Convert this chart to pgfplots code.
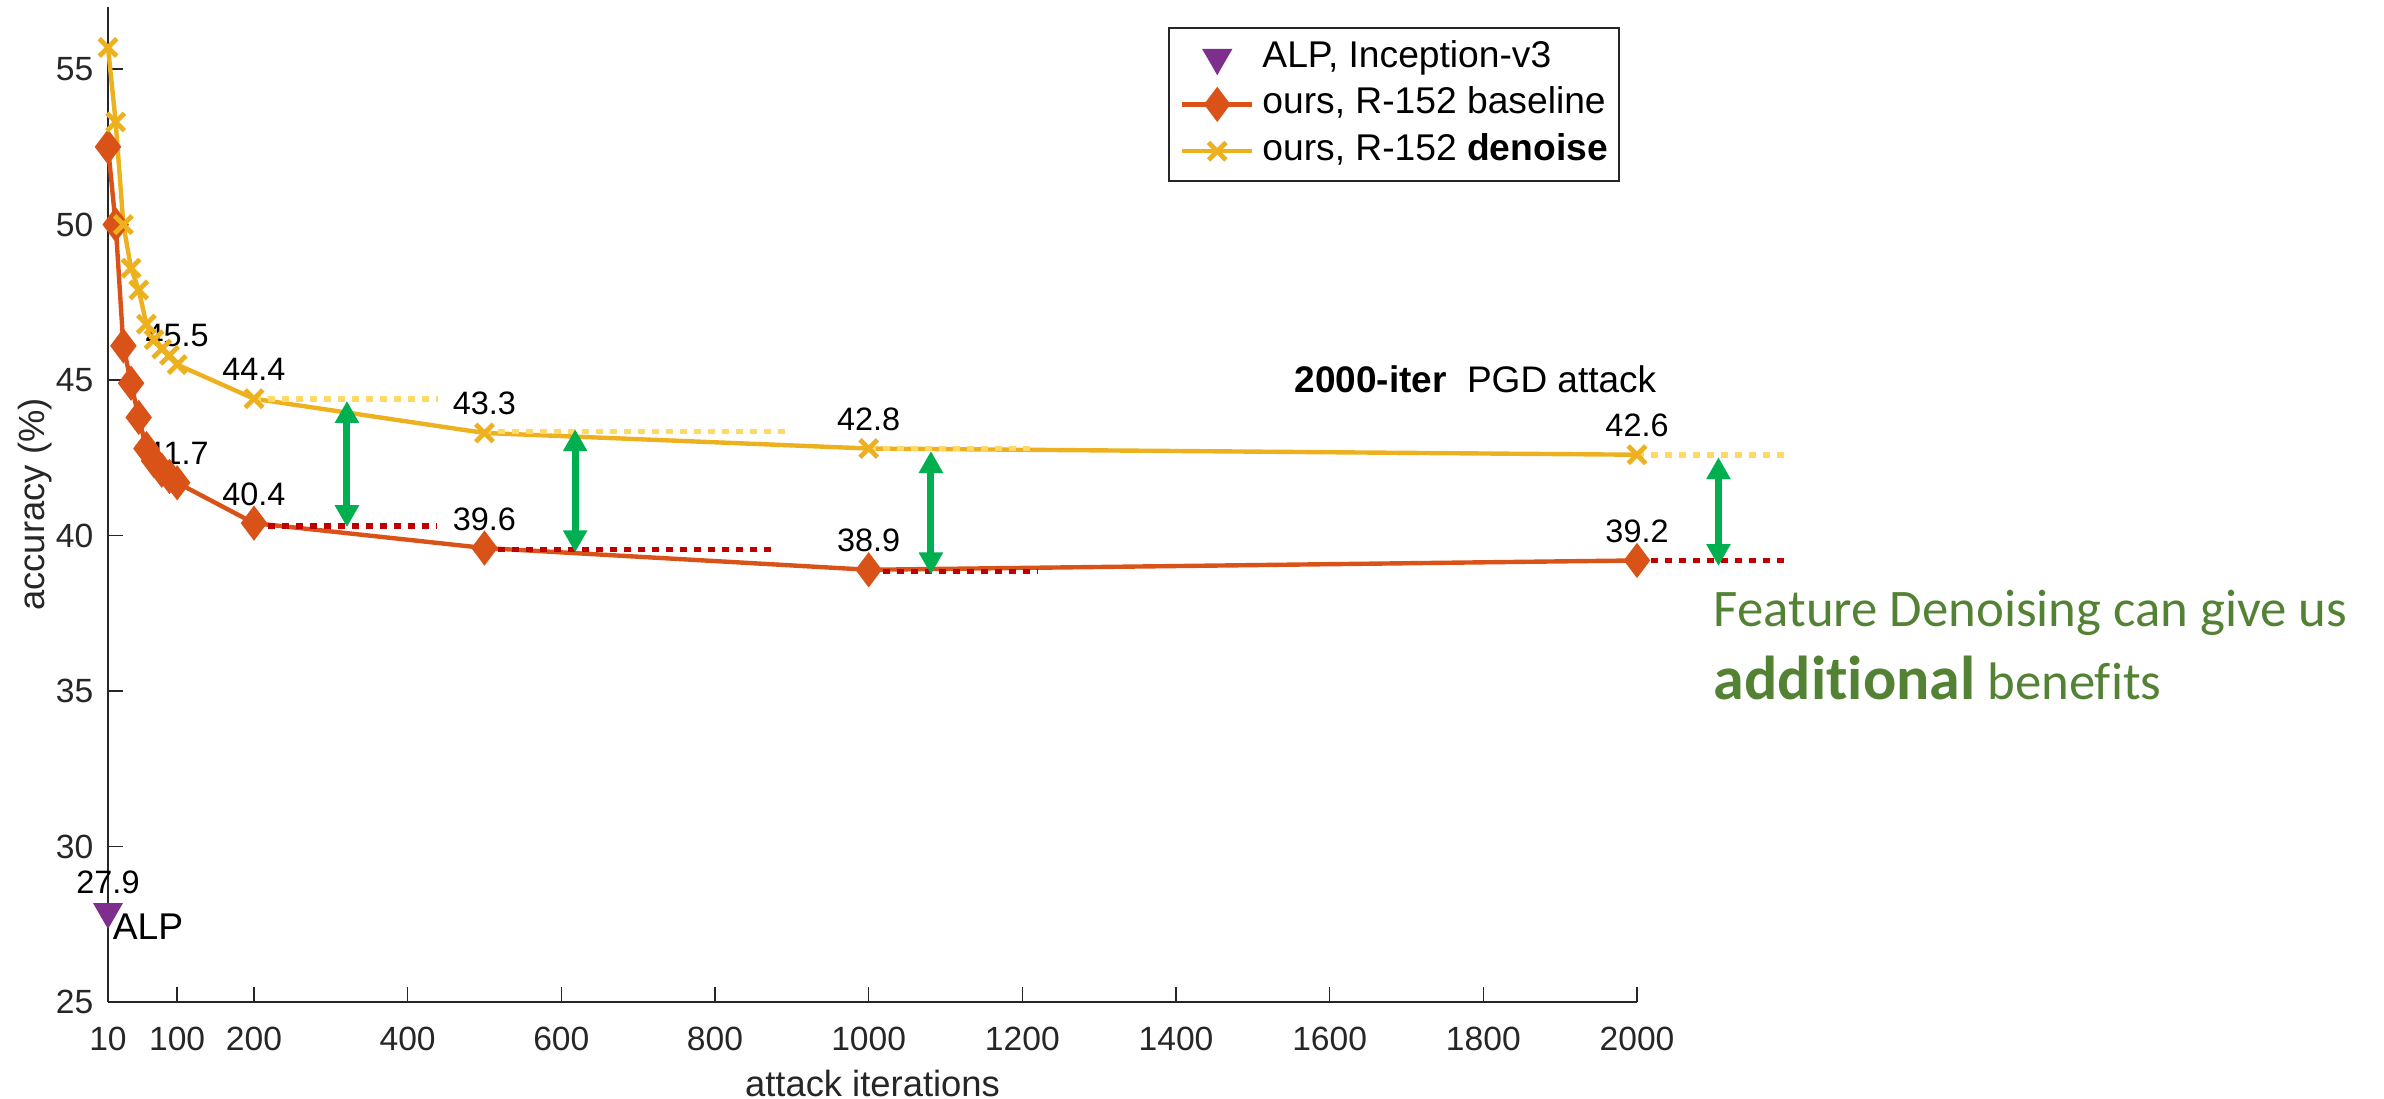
\documentclass[border=0pt]{standalone}
\usepackage{pgfplots}
\pgfplotsset{compat=1.18}
\usepackage{pgfplotstable}
\usepackage{fontspec}
\setmainfont{Liberation Sans}
\newfontfamily\carlito[Ligatures=NoCommon]{Carlito}
\usetikzlibrary{arrows.meta}
\definecolor{cbase}{RGB}{217,83,25}
\definecolor{cden}{RGB}{237,177,32}
\definecolor{calp}{RGB}{126,47,142}
\definecolor{axgray}{RGB}{38,38,38}
\definecolor{dotyel}{RGB}{255,217,102}
\definecolor{dotred}{RGB}{192,0,0}
\definecolor{arrgreen}{RGB}{0,176,80}
\definecolor{txtgreen}{RGB}{84,130,53}

\pgfplotstableread{
x y
10 52.5
20 50.0
30 46.1
40 44.9
50 43.8
60 42.8
70 42.4
80 42.1
90 41.9
100 41.7
200 40.4
500 39.6
1000 38.9
2000 39.2
}\basetable

\pgfplotstableread{
x y
10 55.7
20 53.3
30 50.0
40 48.6
50 47.9
60 46.8
70 46.3
80 46.0
90 45.8
100 45.5
200 44.4
500 43.3
1000 42.8
2000 42.6
}\dentable

\begin{document}
\begin{tikzpicture}
\useasboundingbox (-27pt,-24.25pt) rectangle (569pt,250.5pt);
\begin{axis}[
  scale only axis, width=382.25pt, height=248.75pt,
  xmin=10, xmax=2000, ymin=25, ymax=57,
  clip=false,
  axis x line*=bottom, axis y line*=left,
  axis line style={-, draw=axgray, line width=0.5pt},
  tick align=inside, major tick length=3.75pt,
  tick style={draw=axgray, line width=0.4pt},
  xtick={10,100,200,400,600,800,1000,1200,1400,1600,1800,2000},
  ytick={25,30,35,40,45,50,55},
  /pgf/number format/assume math mode=true,
  /pgf/number format/1000 sep={},
  xticklabel style={font=\fontsize{8.4}{10}\selectfont, text=axgray, inner sep=0pt, yshift=-6pt},
  yticklabel style={font=\fontsize{8.4}{10}\selectfont, text=axgray, inner sep=0pt, xshift=-3.5pt},
  xlabel={attack iterations}, ylabel={accuracy (\%)},
  xlabel style={at={(axis description cs:0.5,-0.0814)}, anchor=center, font=\fontsize{9.1}{11}\selectfont, text=axgray},
  ylabel style={at={(axis description cs:-0.0477,0.5)}, anchor=center, font=\fontsize{9.1}{11}\selectfont, text=axgray},
  legend style={at={(rel axis cs:0.6933,0.9799)}, anchor=north west, draw=axgray, line width=0.5pt, fill=white,
    font=\fontsize{9.3}{11}\selectfont, inner xsep=2.75pt, inner ysep=3pt, row sep=2.9pt, column sep=2pt,
    nodes={inner sep=0pt, text height=6.8pt, text depth=2pt}},
  legend cell align=left,
  legend image code/.code={\draw[mark repeat=2,mark phase=2] plot coordinates {(0pt,0pt) (8.75pt,0pt) (17.5pt,0pt)};},
]
\addplot[only marks, mark=triangle*, mark size=3.9pt, color=calp, mark options={rotate=180}] coordinates {(10,27.9)};
\addlegendentry{ALP, Inception-v3}
\addplot[color=cbase, line width=1.1pt, mark=diamond*, mark size=3.5pt, mark options={solid}] table {\basetable};
\addlegendentry{ours, R-152 baseline}
\addplot[color=cden, line width=1.1pt, mark=x, mark size=3.1pt, mark options={solid, line width=1.2pt}] table {\dentable};
\addlegendentry{ours, R-152 \textbf{denoise}}

% dotted guide lines
\draw[dotyel, line width=1.4pt, dash pattern=on 1.75pt off 1.75pt] (axis cs:200,44.4) -- (axis cs:440,44.4);
\draw[dotyel, line width=1.4pt, dash pattern=on 1.75pt off 1.75pt] (axis cs:500,43.35) -- (axis cs:891,43.35);
\draw[dotyel, line width=1.4pt, dash pattern=on 1.75pt off 1.75pt] (axis cs:1000,42.8) -- (axis cs:1215,42.8);
\draw[dotyel, line width=1.4pt, dash pattern=on 1.75pt off 1.75pt] (axis cs:2000,42.6) -- (axis cs:2196,42.6);
\draw[dotred, line width=1.4pt, dash pattern=on 1.75pt off 1.75pt] (axis cs:200,40.3) -- (axis cs:437,40.3);
\draw[dotred, line width=1.4pt, dash pattern=on 1.75pt off 1.75pt] (axis cs:500,39.55) -- (axis cs:873,39.55);
\draw[dotred, line width=1.4pt, dash pattern=on 1.75pt off 1.75pt] (axis cs:1000,38.85) -- (axis cs:1220,38.85);
\draw[dotred, line width=1.4pt, dash pattern=on 1.75pt off 1.75pt] (axis cs:2000,39.2) -- (axis cs:2196,39.2);

% green arrows
\draw[arrgreen, line width=1.75pt, {Triangle[width=5.75pt,length=5.5pt]}-{Triangle[width=5.75pt,length=5.5pt]}] (axis cs:321,44.33) -- (axis cs:321,40.27);
\draw[arrgreen, line width=1.75pt, {Triangle[width=5.75pt,length=5.5pt]}-{Triangle[width=5.75pt,length=5.5pt]}] (axis cs:618,43.42) -- (axis cs:618,39.46);
\draw[arrgreen, line width=1.75pt, {Triangle[width=5.75pt,length=5.5pt]}-{Triangle[width=5.75pt,length=5.5pt]}] (axis cs:1081,42.72) -- (axis cs:1081,38.75);
\draw[arrgreen, line width=1.75pt, {Triangle[width=5.75pt,length=5.5pt]}-{Triangle[width=5.75pt,length=5.5pt]}] (axis cs:2106,42.52) -- (axis cs:2106,39.02);

% data labels
\tikzset{dlab/.style={font=\fontsize{8.1}{10}\selectfont, anchor=base, inner sep=0pt, yshift=4.5pt}}
\node[dlab] at (axis cs:100,45.5) {45.5};
\node[dlab] at (axis cs:200,44.4) {44.4};
\node[dlab] at (axis cs:500,43.3) {43.3};
\node[dlab] at (axis cs:1000,42.8) {42.8};
\node[dlab] at (axis cs:2000,42.6) {42.6};
\node[dlab] at (axis cs:100,41.7) {41.7};
\node[dlab] at (axis cs:200,40.4) {40.4};
\node[dlab] at (axis cs:500,39.6) {39.6};
\node[dlab] at (axis cs:1000,38.9) {38.9};
\node[dlab] at (axis cs:2000,39.2) {39.2};
\node[dlab] at (axis cs:10,27.9) {27.9};
\node[font=\fontsize{9.3}{11}\selectfont, anchor=base west, inner sep=0pt, xshift=1pt, yshift=-7pt] at (axis cs:10,27.9) {ALP};
\end{axis}
\node[anchor=base east, inner sep=0pt, font=\fontsize{9.25}{11}\selectfont] at (387.25pt,152.25pt) {\textbf{2000-iter}\hspace{0.55em}PGD attack};
\node[anchor=base west, inner sep=0pt, text=txtgreen, font=\carlito\fontsize{13.2}{15}\selectfont] at (401.25pt,93.75pt) {Feature Denoising can give us};
\node[anchor=base west, inner sep=0pt, text=txtgreen, font=\carlito\fontsize{13.2}{15}\selectfont] at (401.25pt,75.5pt) {{\fontsize{15.5}{18}\selectfont\bfseries additional} benefits};
\end{tikzpicture}
\end{document}
